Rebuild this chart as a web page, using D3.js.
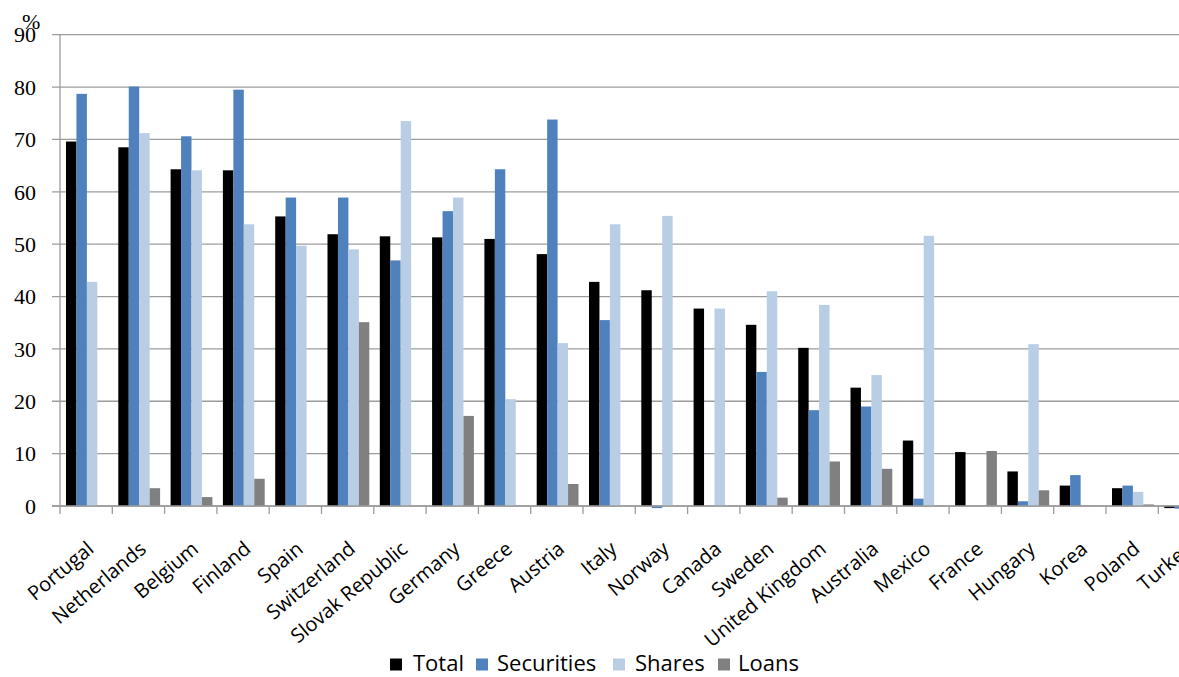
<!DOCTYPE html>
<html>
<head>
<meta charset="utf-8">
<script src="https://cdn.jsdelivr.net/npm/d3@7/dist/d3.min.js"></script>
<style>
  html, body { margin: 0; padding: 0; background: #fff; }
  svg { display: block; }
</style>
</head>
<body>
<svg id="chart" width="1179" height="677"></svg>
<script>
// Countries, in the order shown
const countries = ["Portugal", "Netherlands", "Belgium", "Finland", "Spain", "Switzerland",
  "Slovak Republic", "Germany", "Greece", "Austria", "Italy", "Norway", "Canada", "Sweden",
  "United Kingdom", "Australia", "Mexico", "France", "Hungary", "Korea", "Poland", "Turkey"];

const seriesNames = ["Total", "Securities", "Shares", "Loans"];
const seriesColors = ["#000000", "#4F81BD", "#B9CDE5", "#808080"];

// Values in %, one array per series (same order as countries)
const total      = [69.6, 68.5, 64.3, 64.1, 55.3, 51.9, 51.5, 51.3, 51.0, 48.1, 42.8, 41.2, 37.7, 34.6, 30.2, 22.6, 12.5, 10.3, 6.6, 3.9, 3.4, -0.4];
const securities = [78.7, 80.1, 70.6, 79.5, 58.9, 58.9, 46.9, 56.3, 64.3, 73.8, 35.5, -0.4, 0, 25.6, 18.3, 19.0, 1.4, 0, 0.9, 5.9, 3.9, -0.5];
const shares     = [42.8, 71.2, 64.1, 53.8, 49.7, 49.0, 73.5, 58.9, 20.4, 31.1, 53.8, 55.4, 37.7, 41.0, 38.4, 25.0, 51.6, 0, 30.9, 0, 2.7, 0.4];
const loans      = [0, 3.4, 1.7, 5.2, 0, 35.1, 0, 17.2, 0, 4.2, 0, 0, 0, 1.6, 8.5, 7.1, 0, 10.5, 3.0, 0, 0.3, 0];

const yTicks = [0, 10, 20, 30, 40, 50, 60, 70, 80, 90];

const seriesValues = [total, securities, shares, loans];
const rows = countries.map((c, i) => ({
  country: c,
  values: seriesNames.map((s, k) => ({ key: s, value: seriesValues[k][i] }))
}));

const svg = d3.select("#chart");
const W = 1179;
const plotLeft = 60, plotTop = 34.7, plotBottom = 506;
const step = 52.3;

const y = d3.scaleLinear().domain([0, 90]).range([plotBottom, plotTop]);
const x0 = d3.scaleBand().domain(countries).range([plotLeft, plotLeft + step * countries.length]).padding(0);
const x1 = d3.scaleBand().domain(seriesNames).range([6, x0.bandwidth() - 4.5]).padding(0);
const color = d3.scaleOrdinal().domain(seriesNames).range(seriesColors);

const gridColor = "#9c9c9c";

// Horizontal gridlines (their left stub doubles as the y tick)
svg.append("g")
  .selectAll("line")
  .data(yTicks)
  .join("line")
  .attr("x1", plotLeft - 8)
  .attr("x2", W)
  .attr("y1", d => y(d))
  .attr("y2", d => y(d))
  .attr("stroke", gridColor)
  .attr("stroke-width", 1.3);

// Vertical axis line
svg.append("line")
  .attr("x1", plotLeft).attr("x2", plotLeft)
  .attr("y1", y(90)).attr("y2", y(0))
  .attr("stroke", gridColor).attr("stroke-width", 1.3);

// Bars
const groups = svg.append("g")
  .selectAll("g")
  .data(rows)
  .join("g")
  .attr("transform", d => `translate(${x0(d.country)},0)`);

groups.selectAll("rect")
  .data(d => d.values)
  .join("rect")
  .attr("x", d => x1(d.key))
  .attr("width", x1.bandwidth())
  .attr("y", d => y(Math.max(0, d.value)))
  .attr("height", d => Math.abs(y(d.value) - y(0)))
  .attr("fill", d => color(d.key));

// Category axis baseline
svg.append("line")
  .attr("x1", plotLeft - 8).attr("x2", W)
  .attr("y1", plotBottom).attr("y2", plotBottom)
  .attr("stroke", gridColor).attr("stroke-width", 1.3);

// Tick marks between categories
svg.append("g")
  .selectAll("line")
  .data(countries)
  .join("line")
  .attr("x1", d => x0(d))
  .attr("x2", d => x0(d))
  .attr("y1", plotBottom)
  .attr("y2", plotBottom + 8)
  .attr("stroke", gridColor)
  .attr("stroke-width", 1.3);

// Rotated category labels
svg.append("g")
  .selectAll("text")
  .data(countries)
  .join("text")
  .attr("transform", d => `translate(${x0(d) + x0.bandwidth() / 2 + 9},${plotBottom + 45}) rotate(-40)`)
  .attr("text-anchor", "end")
  .attr("font-family", "'Open Sans', sans-serif")
  .attr("font-size", 20)
  .attr("fill", "#000")
  .text(d => d);

// Y tick labels
svg.append("g")
  .selectAll("text")
  .data(yTicks)
  .join("text")
  .attr("x", 36)
  .attr("y", d => y(d))
  .attr("dy", "0.35em")
  .attr("text-anchor", "end")
  .attr("font-family", "'Liberation Serif', serif")
  .attr("font-size", 22)
  .attr("fill", "#000")
  .text(d => d);

svg.append("text")
  .attr("x", 22)
  .attr("y", 29)
  .attr("font-family", "'Liberation Serif', serif")
  .attr("font-size", 22)
  .attr("fill", "#000")
  .text("%");

// Legend: swatch and label positions along one row
const legendX = [390, 476, 613, 718];
const legendLabelGap = [23, 21, 22, 20];
const ly = 670.5;
const legend = svg.append("g")
  .selectAll("g")
  .data(seriesNames)
  .join("g")
  .attr("transform", (d, k) => `translate(${legendX[k]},${ly})`);

legend.append("rect")
  .attr("x", 0).attr("y", -12)
  .attr("width", 12).attr("height", 12)
  .attr("fill", d => color(d));

legend.append("text")
  .attr("x", (d, k) => legendLabelGap[k])
  .attr("y", 0)
  .attr("font-family", "'Open Sans', sans-serif")
  .attr("font-size", 22)
  .attr("fill", "#000")
  .text(d => d);
</script>
</body>
</html>
